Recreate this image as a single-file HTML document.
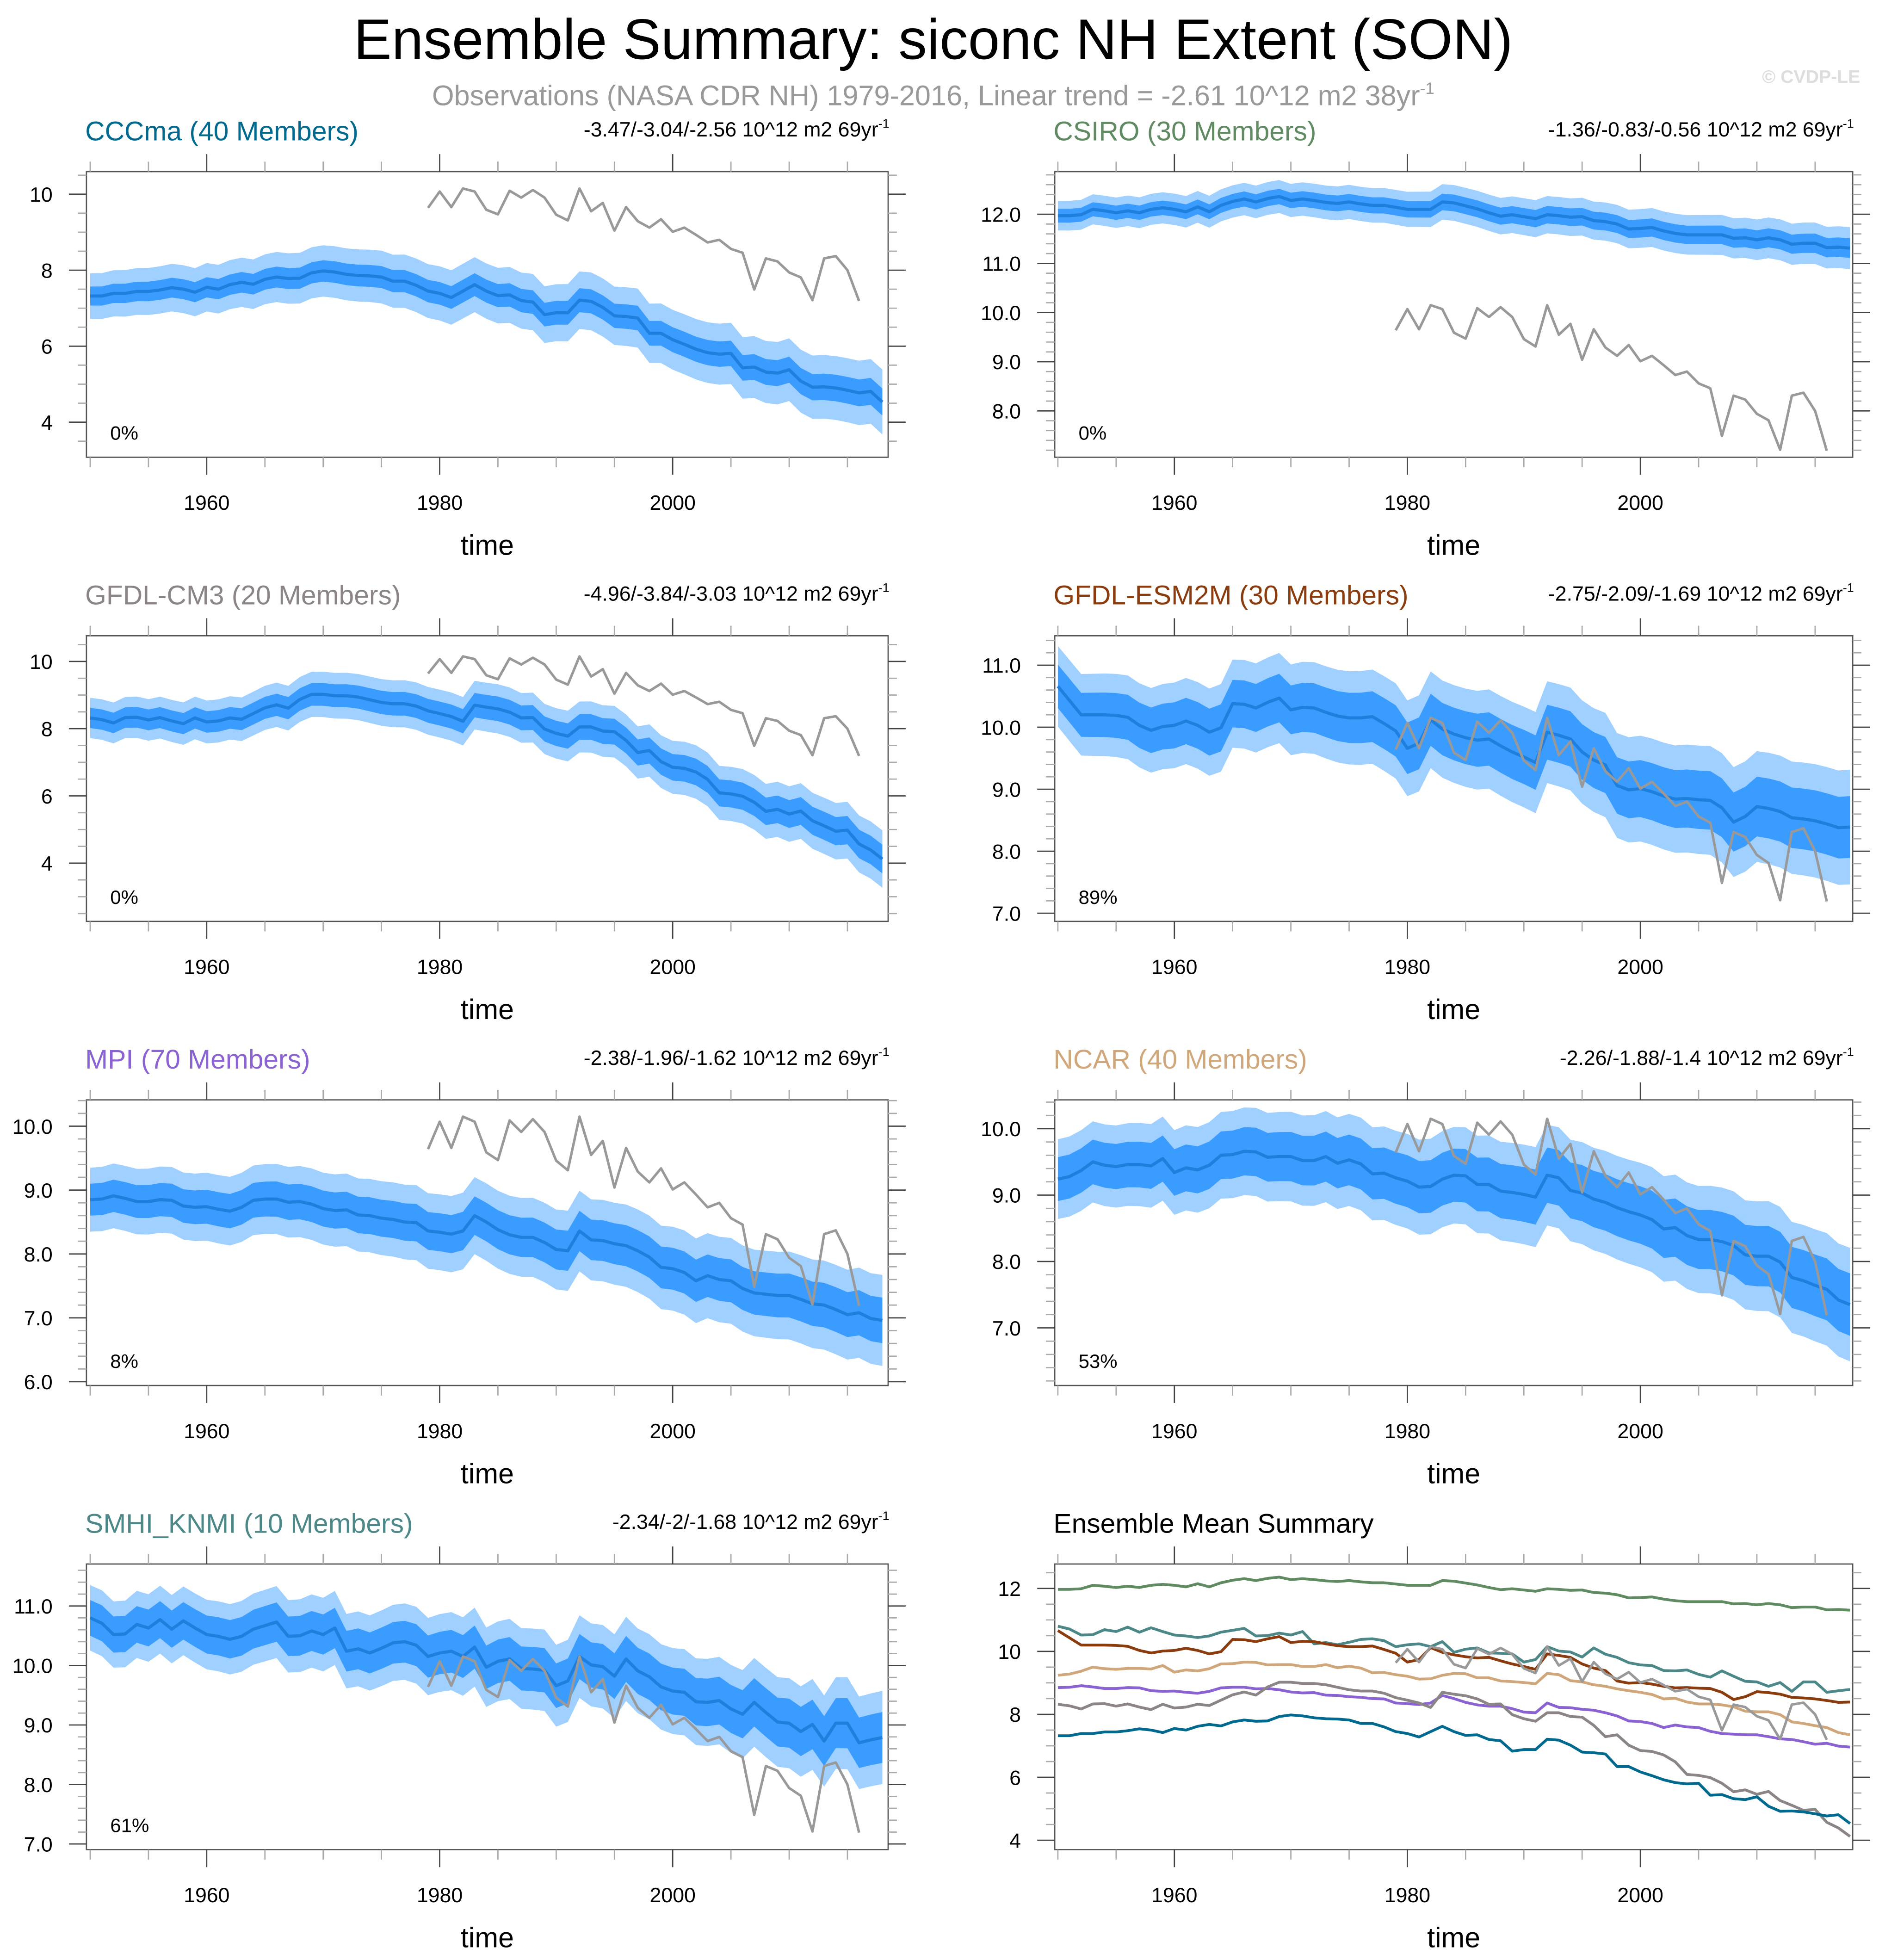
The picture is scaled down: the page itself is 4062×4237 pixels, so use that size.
<!DOCTYPE html>
<html><head><meta charset="utf-8">
<style>html,body{margin:0;padding:0;background:#fff}svg{display:block}text{font-family:"Liberation Sans",Arial,sans-serif}</style>
</head><body>
<svg id="chart" xmlns="http://www.w3.org/2000/svg" width="4062" height="4237" viewBox="0 0 1500 1564.6">
<rect width="1500" height="1564.6" fill="#fff"/>
<text x="745" y="47" font-size="45.5" text-anchor="middle" fill="#000">Ensemble Summary: siconc NH Extent (SON)</text>
<text x="745" y="84" font-size="22.6" text-anchor="middle" fill="#999">Observations (NASA CDR NH) 1979-2016, Linear trend = -2.61 10^12 m2 38yr<tspan dy="-9" font-size="13">-1</tspan></text>
<text x="1485" y="66" font-size="14.5" font-weight="bold" text-anchor="end" fill="#ddd">© CVDP-LE</text>
<g id="panels"></g>
</svg>
<script>
const years=[];for(let y=1950;y<=2018;y++)years.push(y);
const obsYears=[];for(let y=1979;y<=2016;y++)obsYears.push(y);
const obs=[9.64,10.07,9.66,10.15,10.07,9.59,9.47,10.09,9.91,10.11,9.91,9.46,9.31,10.15,9.55,9.77,9.04,9.66,9.29,9.12,9.34,9.01,9.12,8.93,8.73,8.80,8.56,8.46,7.49,8.31,8.23,7.94,7.81,7.21,8.31,8.37,8.00,7.19];
const cccma=[7.32,7.32,7.39,7.39,7.44,7.44,7.48,7.54,7.50,7.42,7.55,7.50,7.62,7.68,7.63,7.76,7.82,7.78,7.79,7.93,7.98,7.95,7.89,7.86,7.85,7.82,7.71,7.71,7.60,7.45,7.39,7.28,7.45,7.62,7.45,7.33,7.35,7.20,7.16,6.83,6.88,6.88,7.21,7.18,7.02,6.80,6.78,6.74,6.34,6.34,6.17,6.05,5.92,5.83,5.79,5.81,5.43,5.45,5.32,5.29,5.38,5.08,4.92,4.93,4.90,4.84,4.77,4.81,4.53];
const csiro=[11.97,11.97,11.99,12.10,12.07,12.03,12.07,12.03,12.10,12.13,12.10,12.05,12.15,12.05,12.18,12.26,12.31,12.25,12.32,12.36,12.28,12.31,12.28,12.24,12.22,12.25,12.21,12.18,12.18,12.14,12.10,12.10,12.10,12.25,12.23,12.17,12.11,12.03,11.96,11.99,11.95,11.91,11.99,11.97,11.94,11.95,11.87,11.85,11.80,11.70,11.71,11.73,11.66,11.61,11.58,11.58,11.58,11.58,11.51,11.52,11.48,11.52,11.48,11.39,11.41,11.41,11.32,11.33,11.31];
const gfdlcm3=[8.32,8.27,8.17,8.33,8.34,8.26,8.33,8.23,8.15,8.32,8.20,8.23,8.32,8.28,8.45,8.62,8.71,8.61,8.87,9.02,9.02,8.98,8.98,8.94,8.86,8.78,8.74,8.74,8.67,8.53,8.45,8.36,8.22,8.70,8.64,8.59,8.49,8.32,8.33,7.99,7.86,7.78,8.05,8.05,7.93,7.91,7.65,7.29,7.35,7.02,6.85,6.82,6.71,6.49,6.09,6.06,5.99,5.81,5.54,5.60,5.46,5.55,5.26,5.11,4.95,4.98,4.57,4.39,4.12];
const gfdlesm=[10.66,10.43,10.20,10.20,10.20,10.19,10.16,10.03,9.95,10.01,10.03,10.10,10.03,9.92,9.99,10.38,10.37,10.31,10.40,10.47,10.28,10.32,10.31,10.24,10.18,10.15,10.15,10.17,10.06,9.94,9.66,9.74,10.12,9.97,9.89,9.83,9.79,9.81,9.70,9.60,9.52,9.43,9.92,9.87,9.81,9.60,9.47,9.39,9.06,8.99,9.01,8.96,8.89,8.84,8.85,8.83,8.82,8.70,8.47,8.56,8.72,8.69,8.64,8.54,8.52,8.49,8.44,8.38,8.39];
const mpi=[8.85,8.86,8.91,8.87,8.82,8.82,8.85,8.84,8.75,8.73,8.74,8.70,8.67,8.73,8.84,8.86,8.86,8.81,8.82,8.78,8.71,8.68,8.69,8.61,8.60,8.56,8.54,8.50,8.49,8.36,8.34,8.31,8.36,8.60,8.50,8.38,8.30,8.26,8.26,8.18,8.07,8.05,8.36,8.22,8.21,8.16,8.13,8.05,7.95,7.79,7.77,7.71,7.58,7.66,7.60,7.58,7.46,7.39,7.37,7.35,7.35,7.29,7.22,7.20,7.13,7.05,7.08,6.99,6.96];
const ncar=[9.24,9.28,9.37,9.50,9.45,9.43,9.46,9.46,9.44,9.55,9.34,9.41,9.38,9.45,9.60,9.61,9.66,9.65,9.57,9.58,9.58,9.52,9.52,9.58,9.48,9.53,9.47,9.32,9.33,9.26,9.21,9.12,9.13,9.24,9.30,9.29,9.16,9.16,9.06,9.04,9.01,8.97,9.30,9.26,9.07,9.03,8.94,8.89,8.81,8.75,8.70,8.63,8.49,8.51,8.39,8.33,8.33,8.30,8.24,8.10,8.08,8.08,7.99,7.76,7.71,7.64,7.58,7.42,7.35];
const smhi=[10.80,10.71,10.52,10.53,10.69,10.63,10.77,10.61,10.75,10.63,10.52,10.49,10.44,10.49,10.61,10.67,10.73,10.49,10.50,10.58,10.52,10.63,10.24,10.28,10.21,10.29,10.38,10.40,10.34,10.15,10.21,10.24,10.15,10.31,9.97,10.07,10.11,9.95,9.94,9.92,9.66,9.74,10.15,10.01,9.98,9.82,10.11,9.91,9.81,9.64,9.57,9.55,9.39,9.38,9.41,9.27,9.18,9.38,9.21,9.05,9.03,8.89,9.01,8.73,9.03,9.03,8.70,8.75,8.79];
const innerSpread=[0.25,0.14,0.30,0.35,0.25,0.33,0.30];
const outerSpread=[0.60,0.30,0.60,0.65,0.50,0.60,0.55];
const percents=["0%","0%","0%","89%","8%","53%","61%"];
const trends=["-3.47/-3.04/-2.56","-1.36/-0.83/-0.56","-4.96/-3.84/-3.03","-2.75/-2.09/-1.69","-2.38/-1.96/-1.62","-2.26/-1.88/-1.4","-2.34/-2/-1.68"];
const names=["CCCma (40 Members)","CSIRO (30 Members)","GFDL-CM3 (20 Members)","GFDL-ESM2M (30 Members)","MPI (70 Members)","NCAR (40 Members)","SMHI_KNMI (10 Members)"];
const colors=["#00698f","#5f8a62","#8c8585","#8b3c0e","#8a62d2","#d0a77a","#4c8888"];
const series=[cccma,csiro,gfdlcm3,gfdlesm,mpi,ncar,smhi];
const yLabels=[[10,8,6,4],[12.0,11.0,10.0,9.0,8.0],[10,8,6,4],[11.0,10.0,9.0,8.0,7.0],[10.0,9.0,8.0,7.0,6.0],[10.0,9.0,8.0,7.0],[11.0,10.0,9.0,8.0,7.0]];
const summaryLabels=[12,10,8,6,4];
const xLabels=[1960,1980,2000];

const NS="http://www.w3.org/2000/svg";
const root=document.getElementById('panels');
function mk(tag,attrs,parent){const e=document.createElementNS(NS,tag);for(const k in attrs)e.setAttribute(k,attrs[k]);(parent||root).appendChild(e);return e;}
const rows=[137,507.5,878,1248.5];
const geo=[
 [0,0,10,155,4,337,0,2],[1,0,12,171,8,328,1,1],
 [0,1,10,528,4,689,0,2],[1,1,11,531,7,729,1,1],
 [0,2,10,899,6,1103,1,1],[1,2,10,901,7,1060,1,1],
 [0,3,11,1282,7,1472,1,1],[1,3,12,1268,4,1469,0,2]];
function panel(i){
  const g=geo[i],col=g[0],row=g[1];
  const L=col?842:69,R=col?1479:709,T=rows[row],B=T+228;
  const x0=col?844.5:72;
  const sx=y=>x0+(y-1950)*9.3;
  const sy=v=>g[3]+(v-g[2])*(g[5]-g[3])/(g[4]-g[2]);
  const grp=mk('g',{});
  
  
  const clipId='clip'+i;
  const cp=mk('clipPath',{id:clipId},grp);mk('rect',{x:L,y:T,width:R-L,height:B-T},cp);
  const plot=mk('g',{'clip-path':'url(#'+clipId+')'},grp);
  
  
  if(i<7){
    const m=series[i];
    const band=(d,fill,name)=>{let pts=years.map((y,k)=>sx(y)+','+sy(m[k]+d*(1+k/160)));
      for(let k=years.length-1;k>=0;k--)pts.push(sx(years[k])+','+sy(m[k]-d*(1+k/160)));
      const p=mk('polygon',{points:pts.join(' '),fill:fill},plot);
      
      };
    band(outerSpread[i],'#a0d0ff','outer-spread-band');
    band(innerSpread[i],'#3a9cff','inner-spread-band');
    const ml=mk('polyline',{points:years.map((y,k)=>sx(y)+','+sy(m[k])).join(' '),fill:'none',stroke:'#1f7fdc','stroke-width':2.5,'stroke-linejoin':'round'},plot);
    
    
  }else{
    const order=[1,6,3,5,4,2,0];
    order.forEach(j=>{
      const l=mk('polyline',{points:years.map((y,k)=>sx(y)+','+sy(series[j][k])).join(' '),fill:'none',stroke:colors[j],'stroke-width':2.2,'stroke-linejoin':'round'},plot);
      
      
    });
  }
  const ol=mk('polyline',{points:obsYears.map((y,k)=>sx(y)+','+sy(obs[k])).join(' '),fill:'none',stroke:'#999','stroke-width':2,'stroke-linejoin':'round'},plot);
  
  
  mk('rect',{x:L,y:T,width:R-L,height:B-T,fill:'none',stroke:'#555','stroke-width':1},grp);
  for(let y=1950;y<=2015;y+=5){const X=sx(y),len=(y%20==0)?14:8,c=(y%20==0)?'#444':'#aaa';
    mk('line',{x1:X,x2:X,y1:T,y2:T-len,stroke:c,'stroke-width':1},grp);
    mk('line',{x1:X,x2:X,y1:B,y2:B+len,stroke:c,'stroke-width':1},grp);}
  xLabels.forEach(y=>{const t=mk('text',{x:sx(y),y:B+42,'font-size':16.5,'text-anchor':'middle'},grp);t.textContent=y;
    
    });
  const xt=mk('text',{x:(L+R)/2,y:B+78,'font-size':22.5,'text-anchor':'middle'},grp);xt.textContent='time';
  
  
  const vTop=g[2]+(T-g[3])*(g[4]-g[2])/(g[5]-g[3]),vBot=g[2]+(B-g[3])*(g[4]-g[2])/(g[5]-g[3]);
  const minor=g[7]==2?0.5:0.2;
  for(let v=Math.ceil(vBot/minor)*minor;v<=vTop+1e-6;v+=minor){const Y=sy(v);const maj=Math.abs(v/g[7]-Math.round(v/g[7]))<1e-6;
    const len=maj?14:7,c=maj?'#444':'#aaa';
    mk('line',{x1:L,x2:L-len,y1:Y,y2:Y,stroke:c,'stroke-width':1},grp);
    mk('line',{x1:R,x2:R+len,y1:Y,y2:Y,stroke:c,'stroke-width':1},grp);}
  const labs=i<7?yLabels[i]:summaryLabels;
  labs.forEach(v=>{const t=mk('text',{x:L-27,y:sy(v)+6,'font-size':16.5,'text-anchor':'end'},grp);t.textContent=v.toFixed(g[6]);
    
    });
  const tt=mk('text',{x:L-1,y:T-25,'font-size':21.7,fill:i<7?colors[i]:'#000'},grp);
  tt.textContent=i<7?names[i]:'Ensemble Mean Summary';
  
  
  if(i<7){
    const tr=mk('text',{x:R+1,y:T-28,'font-size':16.5,'text-anchor':'end'},grp);
    tr.innerHTML=trends[i]+' 10^12 m2 69yr<tspan dy="-7" font-size="10">-1</tspan>';
    
    
    const pc=mk('text',{x:L+19,y:B-14,'font-size':15.5},grp);pc.textContent=percents[i];
    
    
  }
}
for(let i=0;i<8;i++)panel(i);
</script>
</body></html>
